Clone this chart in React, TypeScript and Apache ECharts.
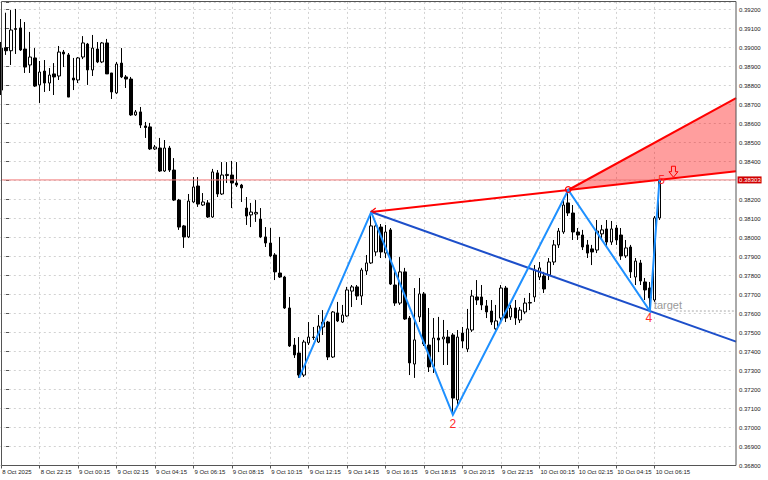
import React, { useEffect, useRef } from "react";
import * as echarts from "echarts";

// bar index of the first array element (a partially visible bar at the left edge)
const FIRST_BAR = -1;
const FUTURE_BARS = 15;

const openPrices = [
  0.38997, 0.38999, 0.38983, 0.39095, 0.39103, 0.38992, 0.38908, 0.38945, 0.38803, 0.38876,
  0.38813, 0.38861, 0.38850, 0.38976, 0.38961, 0.38839, 0.38829, 0.38950, 0.39018, 0.38882,
  0.38992, 0.38924, 0.39024, 0.38866, 0.38761, 0.38918, 0.38845, 0.38834, 0.38645, 0.38661,
  0.38587, 0.38582, 0.38466, 0.38471, 0.38350, 0.38471, 0.38355, 0.38197, 0.38061, 0.38003,
  0.38187, 0.38271, 0.38171, 0.38182, 0.38108, 0.38340, 0.38229, 0.38326, 0.38329, 0.38287,
  0.38276, 0.38155, 0.38119, 0.38124, 0.38097, 0.38003, 0.37971, 0.37908, 0.37813, 0.37792,
  0.37629, 0.37434, 0.37392, 0.37276, 0.37445, 0.37476, 0.37450, 0.37529, 0.37555, 0.37371,
  0.37603, 0.37555, 0.37587, 0.37718, 0.37740, 0.37692, 0.37824, 0.37866, 0.37924, 0.38055,
  0.37918, 0.38040, 0.37750, 0.37655, 0.37819, 0.37576, 0.37334, 0.37582, 0.37703, 0.37434,
  0.37319, 0.37471, 0.37466, 0.37476, 0.37487, 0.37145, 0.37497, 0.37413, 0.37513, 0.37687,
  0.37687, 0.37640, 0.37613, 0.37519, 0.37576, 0.37734, 0.37582, 0.37629, 0.37566, 0.37608,
  0.37655, 0.37687, 0.37792, 0.37797, 0.37803, 0.37871, 0.37961, 0.38029, 0.38182, 0.38129,
  0.38029, 0.38013, 0.37961, 0.37940, 0.37934, 0.38019, 0.38045, 0.37976, 0.38050, 0.38013,
  0.37903, 0.37950, 0.37792, 0.37866, 0.37766, 0.37734, 0.37671, 0.38103,
];

const closePrices = [
  0.38776, 0.38983, 0.39092, 0.39100, 0.38987, 0.38897, 0.38950, 0.38797, 0.38871, 0.38813,
  0.38855, 0.38845, 0.38976, 0.38966, 0.38739, 0.38829, 0.38945, 0.39024, 0.38882, 0.38997,
  0.38924, 0.39024, 0.38861, 0.38766, 0.38913, 0.38845, 0.38834, 0.38645, 0.38661, 0.38592,
  0.38579, 0.38466, 0.38476, 0.38350, 0.38471, 0.38355, 0.38197, 0.38055, 0.38003, 0.38192,
  0.38266, 0.38176, 0.38187, 0.38108, 0.38345, 0.38229, 0.38329, 0.38332, 0.38287, 0.38276,
  0.38261, 0.38113, 0.38134, 0.38132, 0.38003, 0.37971, 0.37903, 0.37819, 0.37792, 0.37629,
  0.37429, 0.37382, 0.37276, 0.37450, 0.37476, 0.37474, 0.37534, 0.37555, 0.37371, 0.37608,
  0.37561, 0.37592, 0.37724, 0.37740, 0.37692, 0.37829, 0.37866, 0.38061, 0.38061, 0.37924,
  0.38029, 0.37755, 0.37655, 0.37819, 0.37571, 0.37340, 0.37461, 0.37703, 0.37440, 0.37319,
  0.37471, 0.37461, 0.37476, 0.37445, 0.37155, 0.37476, 0.37455, 0.37519, 0.37692, 0.37671,
  0.37645, 0.37608, 0.37555, 0.37561, 0.37734, 0.37576, 0.37629, 0.37576, 0.37618, 0.37655,
  0.37658, 0.37829, 0.37840, 0.37729, 0.37871, 0.37961, 0.38034, 0.38171, 0.38129, 0.38029,
  0.38013, 0.37950, 0.37918, 0.37924, 0.38034, 0.38040, 0.37976, 0.38045, 0.37987, 0.37903,
  0.37945, 0.37819, 0.37876, 0.37771, 0.37724, 0.37682, 0.38103, 0.38303,
];

const lowPrices = [
  0.38750, 0.38961, 0.38908, 0.38966, 0.38982, 0.38866, 0.38866, 0.38792, 0.38708, 0.38766,
  0.38771, 0.38750, 0.38829, 0.38897, 0.38739, 0.38776, 0.38813, 0.38939, 0.38803, 0.38850,
  0.38918, 0.38918, 0.38861, 0.38729, 0.38755, 0.38839, 0.38787, 0.38640, 0.38640, 0.38576,
  0.38524, 0.38461, 0.38461, 0.38345, 0.38345, 0.38345, 0.38192, 0.38040, 0.37945, 0.37997,
  0.38182, 0.38161, 0.38166, 0.38103, 0.38103, 0.38213, 0.38224, 0.38287, 0.38155, 0.38266,
  0.38187, 0.38066, 0.38055, 0.38082, 0.37997, 0.37950, 0.37897, 0.37776, 0.37787, 0.37624,
  0.37424, 0.37366, 0.37261, 0.37266, 0.37434, 0.37461, 0.37445, 0.37487, 0.37355, 0.37366,
  0.37555, 0.37550, 0.37582, 0.37634, 0.37671, 0.37645, 0.37803, 0.37861, 0.37903, 0.37892,
  0.37892, 0.37750, 0.37640, 0.37645, 0.37566, 0.37276, 0.37261, 0.37555, 0.37429, 0.37292,
  0.37287, 0.37397, 0.37329, 0.37329, 0.37066, 0.37119, 0.37418, 0.37397, 0.37503, 0.37645,
  0.37618, 0.37576, 0.37540, 0.37513, 0.37555, 0.37555, 0.37566, 0.37540, 0.37550, 0.37597,
  0.37618, 0.37661, 0.37776, 0.37708, 0.37776, 0.37855, 0.37945, 0.38019, 0.38113, 0.37987,
  0.37987, 0.37934, 0.37892, 0.37855, 0.37918, 0.37987, 0.37945, 0.37961, 0.37961, 0.37882,
  0.37892, 0.37787, 0.37750, 0.37750, 0.37671, 0.37613, 0.37661, 0.38092,
];

const highPrices = [
  0.39029, 0.39183, 0.39197, 0.39203, 0.39150, 0.39134, 0.39082, 0.38997, 0.38929, 0.38934,
  0.38892, 0.38918, 0.39008, 0.38987, 0.38971, 0.38945, 0.38950, 0.39060, 0.39024, 0.39066,
  0.39029, 0.39029, 0.39045, 0.38866, 0.38924, 0.38997, 0.38855, 0.38845, 0.38671, 0.38687,
  0.38608, 0.38603, 0.38487, 0.38524, 0.38513, 0.38482, 0.38418, 0.38203, 0.38066, 0.38229,
  0.38318, 0.38318, 0.38234, 0.38197, 0.38361, 0.38355, 0.38397, 0.38397, 0.38403, 0.38397,
  0.38282, 0.38213, 0.38182, 0.38197, 0.38155, 0.38055, 0.38050, 0.37918, 0.38003, 0.37797,
  0.37687, 0.37471, 0.37476, 0.37461, 0.37555, 0.37529, 0.37592, 0.37618, 0.37561, 0.37613,
  0.37661, 0.37645, 0.37740, 0.37750, 0.37750, 0.37840, 0.37908, 0.38134, 0.38082, 0.38071,
  0.38066, 0.38050, 0.37829, 0.37897, 0.37840, 0.37587, 0.37734, 0.37787, 0.37713, 0.37629,
  0.37576, 0.37582, 0.37566, 0.37513, 0.37497, 0.37513, 0.37529, 0.37624, 0.37724, 0.37776,
  0.37750, 0.37671, 0.37671, 0.37645, 0.37750, 0.37745, 0.37645, 0.37671, 0.37634, 0.37682,
  0.37708, 0.37855, 0.37871, 0.37819, 0.37892, 0.37987, 0.38050, 0.38197, 0.38250, 0.38171,
  0.38050, 0.38040, 0.37987, 0.37961, 0.38092, 0.38066, 0.38092, 0.38087, 0.38066, 0.38050,
  0.37987, 0.37961, 0.37892, 0.37882, 0.37787, 0.37766, 0.38113, 0.38305,
];

// pattern points X, A, B, C, D, E: bar index and whether the high or low is used
const patternBars = [61, 76, 93, 117, 134, 136];
const patternUsesHigh = [false, true, false, true, false, true];
const patternLabels = ["", "", "2", "", "4", "5"];

const bidPrice = 0.38303;
const upperTargetPrice = 0.38734;
const leftEdgeBar = -0.94;
const rightEdgeBar = 151.93;
const arrowBar = 138.9;
const targetLineStartBar = 139.4;

const yMin = 0.368;
const yMax = 0.3924;
const yInterval = 0.001;

const firstDateLabel = "8 Oct 2025";
const startDay = 8;
const startMinuteOfDay = 20 * 60 + 15;
const barMinutes = 15;
const labelEvery = 8;

const candleCount = openPrices.length;
const categories: string[] = [];
for (let i = 0; i < candleCount + FUTURE_BARS; i++) {
  const t = startMinuteOfDay + barMinutes * i;
  const day = startDay + Math.floor(t / 1440);
  const m = t % 1440;
  const hh = String(Math.floor(m / 60)).padStart(2, "0");
  const mm = String(m % 60).padStart(2, "0");
  categories.push(`${day} Oct ${hh}:${mm}`);
}

const candleData = openPrices.map((o, i) => [o, closePrices[i], lowPrices[i], highPrices[i]]);

const showTick = (index: number) => index % labelEvery === 0 && index < candleCount;

const priceAt = (k: number, useHigh: boolean) =>
  (useHigh ? highPrices : lowPrices)[k - FIRST_BAR];

const RED = "#ff0000";
const LABEL_RED = "#ff2a2a";
const ZIGZAG_BLUE = "#1e90ff";
const TREND_BLUE = "#1d4fca";
const FONT = "Liberation Sans";

const renderOverlay = (_params: any, api: any) => {
  const pt = (k: number, p: number) => api.coord([k, p]);
  const pp = patternBars.map((k, j) => priceAt(k, patternUsesHigh[j]));
  const P = patternBars.map((k, j) => pt(k, pp[j]));
  const ext = (i1: number, i2: number, k: number) =>
    pp[i1] + ((pp[i2] - pp[i1]) * (k - patternBars[i1])) / (patternBars[i2] - patternBars[i1]);
  const A = P[1];
  const C = P[3];
  const D = P[4];
  const acEnd = pt(rightEdgeBar, ext(1, 3, rightEdgeBar));
  const adEnd = pt(rightEdgeBar, ext(1, 4, rightEdgeBar));
  const upEnd = pt(rightEdgeBar, upperTargetPrice);
  const tip = pt(arrowBar, ext(1, 3, arrowBar));
  const tgtStart = pt(targetLineStartBar, pp[4]);
  const tgtEnd = pt(rightEdgeBar, pp[4]);
  const bidStart = pt(leftEdgeBar, bidPrice);
  const bidEnd = pt(rightEdgeBar, bidPrice);
  const ax = tip[0];
  const ay = tip[1] - 1;

  const labelOffsets: Record<string, [number, number]> = {
    "2": [0, 9],
    "4": [-1, 6.5],
    "5": [2, 0.5],
  };

  const children: any[] = [
    {
      type: "polygon",
      shape: { points: [C, upEnd, acEnd] },
      style: { fill: "rgba(255,0,0,0.38)", stroke: "none" },
    },
    {
      type: "line",
      shape: { x1: bidStart[0], y1: bidStart[1], x2: bidEnd[0], y2: bidEnd[1] },
      style: { stroke: "#f27a7a", lineWidth: 1 },
    },
    {
      type: "polyline",
      shape: { points: [C, upEnd] },
      style: { stroke: RED, lineWidth: 2, fill: "none" },
    },
    {
      type: "polyline",
      shape: { points: [A, acEnd] },
      style: { stroke: RED, lineWidth: 2, fill: "none" },
    },
    {
      type: "polyline",
      shape: { points: [A, adEnd] },
      style: { stroke: TREND_BLUE, lineWidth: 2, fill: "none" },
    },
    {
      type: "polyline",
      shape: { points: P },
      style: { stroke: ZIGZAG_BLUE, lineWidth: 2, fill: "none" },
    },
    {
      type: "line",
      shape: { x1: tgtStart[0], y1: tgtStart[1], x2: tgtEnd[0], y2: tgtEnd[1] },
      style: { stroke: "#a8a8a8", lineWidth: 1, lineDash: [2, 2] },
    },
    {
      type: "text",
      x: D[0] + 4,
      y: D[1] - 6,
      style: {
        text: "target",
        fill: "#9a9a9a",
        fontSize: 11,
        fontFamily: FONT,
        align: "left",
        verticalAlign: "middle",
      },
    },
    {
      type: "polygon",
      shape: {
        points: [
          [ax, ay],
          [ax - 4.5, ay - 5.5],
          [ax - 2, ay - 5.5],
          [ax - 2, ay - 11],
          [ax + 2, ay - 11],
          [ax + 2, ay - 5.5],
          [ax + 4.5, ay - 5.5],
        ],
      },
      style: { fill: "none", stroke: RED, lineWidth: 1 },
    },
    {
      type: "circle",
      shape: { cx: C[0], cy: C[1] - 0.5, r: 2.8 },
      style: { fill: "none", stroke: RED, lineWidth: 1.2 },
    },
    {
      type: "polyline",
      shape: { points: [[A[0] + 4.5, A[1] - 4], [A[0], A[1] - 0.5], [A[0] + 4.5, A[1] + 1]] },
      style: { stroke: RED, lineWidth: 1.2, fill: "none" },
    },
    {
      type: "rect",
      shape: { x: bidEnd[0] + 1.5, y: bidEnd[1] - 3.5, width: 24, height: 7 },
      style: { fill: "#d00000", stroke: "none" },
    },
    {
      type: "text",
      x: bidEnd[0] + 3,
      y: bidEnd[1],
      style: {
        text: bidPrice.toFixed(5),
        fill: "#ffffff",
        fontSize: 6,
        fontFamily: FONT,
        align: "left",
        verticalAlign: "middle",
      },
    },
  ];

  P.forEach((pnt: number[], j: number) => {
    const label = patternLabels[j];
    if (!label) return;
    const off = labelOffsets[label] || [0, 0];
    children.push({
      type: "text",
      x: pnt[0] + off[0],
      y: pnt[1] + off[1],
      style: {
        text: label,
        fill: LABEL_RED,
        fontSize: 12,
        fontFamily: FONT,
        align: "center",
        verticalAlign: "middle",
      },
    });
  });

  return { type: "group", children };
};

const gridLine = { color: "#d2d2d2", type: [2, 3] as any, width: 1 };

const option: any = {
  animation: false,
  backgroundColor: "#ffffff",
  grid: {
    left: -1.2,
    right: 34,
    top: 1.9,
    bottom: 14.5,
    containLabel: false,
    outerBoundsMode: "none",
    show: false,
  },
  xAxis: [
    {
      type: "category",
      data: categories,
      boundaryGap: true,
      axisLine: { show: false },
      axisTick: {
        show: true,
        interval: showTick,
        alignWithLabel: true,
        length: 3,
        lineStyle: { color: "#555" },
      },
      axisLabel: {
        interval: showTick,
        showMinLabel: true,
        showMaxLabel: true,
        hideOverlap: false,
        formatter: (v: string, i: number) => (i === 0 ? firstDateLabel : v),
        align: "left",
        margin: 3,
        fontSize: 6,
        fontFamily: FONT,
        color: "#222",
        padding: [0, 0, 0, 1],
      },
      splitLine: {
        show: true,
        interval: showTick,
        alignWithLabel: true,
        lineStyle: gridLine,
      },
    },
    {
      type: "value",
      min: FIRST_BAR - 0.5,
      max: FIRST_BAR - 0.5 + categories.length,
      show: false,
    },
  ],
  yAxis: {
    type: "value",
    position: "right",
    offset: 2,
    min: yMin,
    max: yMax,
    interval: yInterval,
    axisLine: { show: false },
    axisTick: { show: true, length: 3, lineStyle: { color: "#555" } },
    axisLabel: {
      formatter: (v: number) =>
        Math.abs(v * 1000 - Math.round(v * 1000)) < 1e-6 ? v.toFixed(5) : "",
      fontSize: 6,
      margin: 3,
      color: "#222",
      fontFamily: FONT,
    },
    splitLine: { show: true, lineStyle: gridLine },
  },
  graphic: [
    {
      type: "rect",
      z: 100,
      silent: true,
      shape: { x: 1.5, y: 1.5, width: 734.5, height: 464 },
      style: { fill: "none", stroke: "#555", lineWidth: 1 },
    },
  ],
  series: [
    {
      type: "candlestick",
      xAxisIndex: 0,
      yAxisIndex: 0,
      data: candleData,
      barWidth: 3,
      itemStyle: {
        color: "#ffffff",
        color0: "#000000",
        borderColor: "#000000",
        borderColor0: "#000000",
        borderWidth: 1,
      },
    },
    {
      type: "custom",
      xAxisIndex: 1,
      yAxisIndex: 0,
      z: 5,
      silent: true,
      clip: false,
      data: [[patternBars[0], bidPrice]],
      renderItem: renderOverlay,
    },
  ],
};

export default function App() {
  const ref = useRef<HTMLDivElement>(null);
  useEffect(() => {
    document.body.style.margin = "0";
    const chart = echarts.init(ref.current as HTMLDivElement, null, {
      renderer: "svg",
      width: 768,
      height: 480,
    });
    chart.setOption(option);
    return () => chart.dispose();
  }, []);
  return (
    <div
      ref={ref}
      style={{ position: "fixed", left: 0, top: 0, width: 768, height: 480 }}
    />
  );
}
